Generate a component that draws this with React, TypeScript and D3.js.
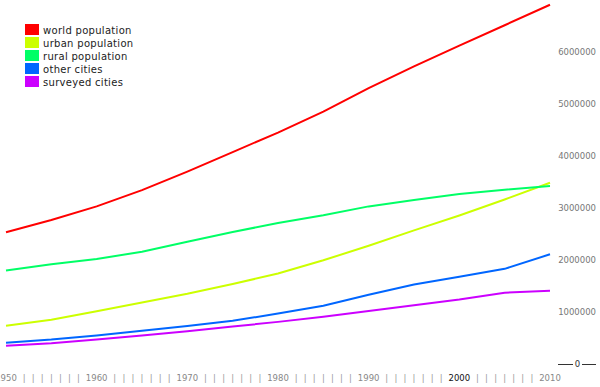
import React, { useRef, useEffect } from 'react';
import * as d3 from 'd3';

// values in thousands, every 5 years
const years = [1950, 1955, 1960, 1965, 1970, 1975, 1980, 1985, 1990, 1995, 2000, 2005, 2010];
const world = [2535, 2770, 3032, 3343, 3699, 4076, 4451, 4855, 5306, 5724, 6124, 6515, 6908];
const urban = [737, 851, 1013, 1184, 1349, 1538, 1740, 1994, 2275, 2570, 2857, 3164, 3486];
const rural = [1798, 1919, 2019, 2159, 2350, 2538, 2711, 2861, 3031, 3154, 3267, 3351, 3422];
const otherCities = [410, 470, 550, 640, 730, 830, 970, 1120, 1330, 1530, 1680, 1830, 2110];
const surveyedCities = [350, 400, 470, 550, 630, 720, 810, 910, 1020, 1130, 1240, 1370, 1410];

const seriesNames = ['world population', 'urban population', 'rural population', 'other cities', 'surveyed cities'];
const seriesValues = [world, urban, rural, otherCities, surveyedCities];
const seriesColors = ['#ff0000', '#ccff00', '#00ff66', '#0066ff', '#cc00ff'];

const yTicks = [0, 1000000, 2000000, 3000000, 4000000, 5000000, 6000000];

const LineChart = () => {
  const svgRef = useRef<SVGSVGElement>(null);

  useEffect(() => {
    const svg = d3.select(svgRef.current);
    svg.selectAll('*').remove();

    const x = d3.scaleLinear().domain([1950, 2010]).range([6, 550]);
    const y = d3.scaleLinear().domain([0, 1000000]).range([364, 312]);

    const line = d3.line<number>()
      .x((d, i) => x(years[i]))
      .y(d => y(d * 1000));

    seriesValues.forEach((vals, i) => {
      svg.append('path')
        .datum(vals)
        .attr('fill', 'none')
        .attr('stroke', seriesColors[i])
        .attr('stroke-width', 2)
        .attr('d', line);
    });

    // x axis: year labels and "|" ticks
    const xAxis = svg.append('g')
      .attr('font-family', 'DejaVu Sans')
      .attr('font-size', 8.5)
      .attr('text-anchor', 'middle');
    d3.range(1950, 2011).forEach(yr => {
      const m = yr % 10;
      if (m === 1 || m === 9) return;
      xAxis.append('text')
        .attr('x', x(yr))
        .attr('y', 381)
        .attr('fill', m === 0 ? (yr === 2000 ? '#111' : '#888') : '#999')
        .text(m === 0 ? String(yr) : '|');
    });

    // y axis on the right
    const yAxis = svg.append('g')
      .attr('font-family', 'DejaVu Sans')
      .attr('font-size', 8.5)
      .attr('fill', '#777');
    yTicks.forEach(v => {
      if (v === 0) {
        yAxis.append('text')
          .attr('x', 577.5)
          .attr('y', y(v))
          .attr('dy', '0.35em')
          .attr('text-anchor', 'middle')
          .attr('fill', '#333')
          .text('0');
        yAxis.append('line')
          .attr('x1', 558).attr('x2', 573)
          .attr('y1', y(v) + 0.5).attr('y2', y(v) + 0.5)
          .attr('stroke', '#333');
        yAxis.append('line')
          .attr('x1', 582).attr('x2', 596)
          .attr('y1', y(v) + 0.5).attr('y2', y(v) + 0.5)
          .attr('stroke', '#333');
      } else {
        yAxis.append('text')
          .attr('x', 596)
          .attr('y', y(v))
          .attr('dy', '0.35em')
          .attr('text-anchor', 'end')
          .text(String(v));
      }
    });

    // legend
    const legend = svg.append('g')
      .attr('font-family', 'DejaVu Sans')
      .attr('font-size', 10);
    seriesNames.forEach((name, i) => {
      legend.append('rect')
        .attr('x', 25).attr('y', 24 + i * 13)
        .attr('width', 14).attr('height', 11)
        .attr('fill', seriesColors[i]);
      legend.append('text')
        .attr('x', 43).attr('y', 33.5 + i * 13)
        .attr('fill', '#222')
        .attr('letter-spacing', 0.3)
        .text(name);
    });
  }, []);

  return (
    <svg ref={svgRef} width="600" height="387"
      style={{ position: 'absolute', left: 0, top: 0, background: '#fff' }}></svg>
  );
};

export default function App() {
  return <LineChart />;
}
